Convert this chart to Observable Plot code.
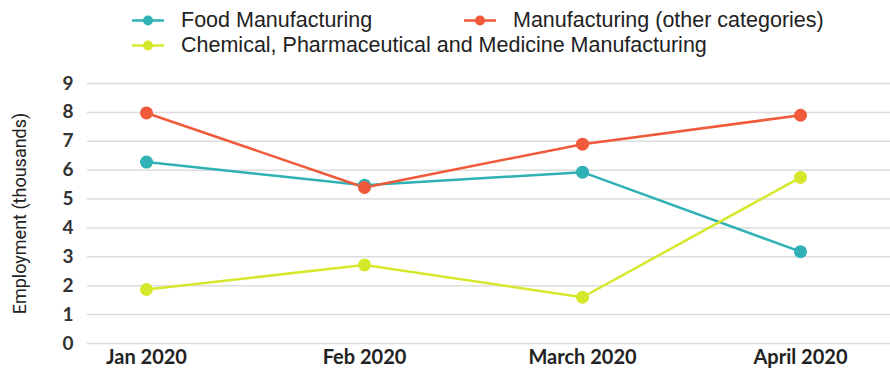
<!DOCTYPE html>
<html>
<head>
<meta charset="utf-8">
<script src="https://cdn.jsdelivr.net/npm/d3@7"></script>
<script src="https://cdn.jsdelivr.net/npm/@observablehq/plot@0.6"></script>
<style>
  html, body { margin: 0; padding: 0; background: #fff; }
  #wrap { position: relative; width: 890px; height: 371px; overflow: hidden; }
  #legend { position: relative; height: 60px; font-family: "Liberation Sans", Arial, sans-serif; font-size: 21.5px; color: #222; }
  .item { position: absolute; display: flex; align-items: center; white-space: nowrap; transform: translateY(-50%); }
  .item svg { margin-right: 17px; }
  #chart svg { display: block; }
</style>
</head>
<body>
<div id="wrap">
  <div id="legend"></div>
  <div id="chart"></div>
</div>
<script>
const months = ["Jan 2020", "Feb 2020", "March 2020", "April 2020"];
const seriesNames = ["Food Manufacturing", "Manufacturing (other categories)", "Chemical, Pharmaceutical and Medicine Manufacturing"];
const seriesColors = ["#2fb1b5", "#f05a3a", "#d6e82c"];
const foodValues = [6.28, 5.48, 5.93, 3.18];
const otherManufacturingValues = [7.98, 5.40, 6.90, 7.90];
const chemicalValues = [1.87, 2.72, 1.60, 5.75];
const yTicks = [0, 1, 2, 3, 4, 5, 6, 7, 8, 9];
const yLabel = "Employment (thousands)";

const allValues = [foodValues, otherManufacturingValues, chemicalValues];
const data = [];
seriesNames.forEach((s, i) => months.forEach((m, j) => data.push({series: s, month: m, value: allValues[i][j]})));

// legend
const legendPos = [{left: 132, top: 20}, {left: 464, top: 20}, {left: 132, top: 45}];
const legend = document.getElementById("legend");
seriesNames.forEach((s, i) => {
  const d = document.createElement("div");
  d.className = "item";
  d.style.left = legendPos[i].left + "px";
  d.style.top = legendPos[i].top + "px";
  d.innerHTML = `<svg width="32" height="14"><line x1="0" y1="7" x2="32" y2="7" stroke="${seriesColors[i]}" stroke-width="2.5"/><circle cx="16" cy="7" r="5" fill="${seriesColors[i]}"/></svg><span>${s}</span>`;
  legend.appendChild(d);
});

const chart = Plot.plot({
  width: 890,
  height: 311,
  marginTop: 23,
  marginBottom: 28,
  marginLeft: 87,
  marginRight: 0,
  style: {fontFamily: "Lato, sans-serif", background: "#fff"},
  x: {type: "point", domain: months, padding: 0, insetLeft: 58, insetRight: 89, label: null},
  y: {domain: [0, 9], ticks: yTicks, label: null},
  color: {domain: seriesNames, range: seriesColors},
  marks: [
    Plot.ruleY(yTicks, {stroke: "#dcdcdc", strokeWidth: 1.5}),
    Plot.axisY({ticks: yTicks, tickSize: 0, tickPadding: 14, fontSize: 19, fill: "#333", fontWeight: 700, label: null}),
    Plot.text([yLabel], {text: d => d, frameAnchor: "left", textAnchor: "middle", rotate: -90, dx: -67, fontSize: 18,
      fontFamily: "Roboto, sans-serif", fill: "#222"}),
    Plot.axisX({tickSize: 0, tickPadding: 6, fontSize: 20, fill: "#222", fontWeight: 700, label: null}),
    Plot.line(data, {x: "month", y: "value", z: "series", stroke: "series", strokeWidth: 2.5}),
    Plot.dot(data, {x: "month", y: "value", fill: "series", r: 6.5})
  ]
});
document.getElementById("chart").appendChild(chart);
</script>
</body>
</html>
